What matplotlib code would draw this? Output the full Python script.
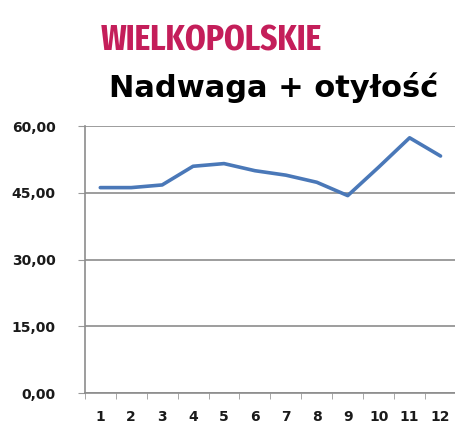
import matplotlib
matplotlib.use("Agg")
import matplotlib.pyplot as plt
from matplotlib import font_manager
from matplotlib.ticker import FixedLocator, FuncFormatter

months = [1, 2, 3, 4, 5, 6, 7, 8, 9, 10, 11, 12]
values = [46.2, 46.2, 46.8, 51.0, 51.6, 50.0, 49.0, 47.4, 44.4, 50.8, 57.4, 53.3]
y_ticks = [0, 15, 30, 45, 60]


def pick_narrow():
    # look for an installed condensed / narrow bold face for the region title
    fonts = font_manager.fontManager.ttflist
    for key in ["ExtraCondensed", "Extra Condensed", "Condensed", "Narrow"]:
        hits = [f for f in fonts if key in f.name or key in f.fname]
        bold = [f for f in hits if f.weight in (600, 700, "bold", "semibold")]
        if bold or hits:
            f = (bold or hits)[0]
            return font_manager.FontProperties(fname=f.fname), f.name
    return font_manager.FontProperties(family="DejaVu Sans", weight="bold"), None


narrow_prop, narrow_name = pick_narrow()

fig = plt.figure(figsize=(4.56, 4.25), dpi=100)
ax = fig.add_axes([0.186, 0.075, 0.814, 0.628])

ax.plot(months, values, color="#4a78b8", lw=2.6, solid_capstyle="round")

ax.set_xlim(0.5, 12.5)
ax.set_ylim(0, 60)
ax.set_yticks(y_ticks)
ax.yaxis.set_major_formatter(FuncFormatter(lambda v, p: f"{v:.2f}".replace(".", ",")))
ax.set_xticks(months)
ax.xaxis.set_minor_locator(FixedLocator([m + 0.5 for m in [0] + months]))
ax.tick_params(axis="x", which="major", length=0, pad=12)
ax.tick_params(axis="x", which="minor", length=4, direction="out", color="#999999")
ax.tick_params(axis="y", length=5, direction="out", color="#999999", pad=16)
for lab in ax.get_xticklabels() + ax.get_yticklabels():
    lab.set_fontsize(10)
    lab.set_fontweight("bold")
    lab.set_color("#1a1a1a")

ax.grid(axis="y", color="#8c8c8c", lw=1.2)
ax.set_axisbelow(True)
for s in ["top", "right"]:
    ax.spines[s].set_visible(False)
for s in ["left", "bottom"]:
    ax.spines[s].set_color("#8c8c8c")
    ax.spines[s].set_linewidth(1.2)

title_size = 26 if narrow_name else 20
fig.text(0.22, 0.882, "WIELKOPOLSKIE", fontproperties=narrow_prop,
         fontsize=title_size, color="#c41e5a", ha="left", va="baseline")
fig.text(0.24, 0.772, "Nadwaga + otyłość", family="DejaVu Sans", weight="bold",
         fontsize=22, color="#000000", ha="left", va="baseline")

fig.savefig("out.png", dpi=100)
